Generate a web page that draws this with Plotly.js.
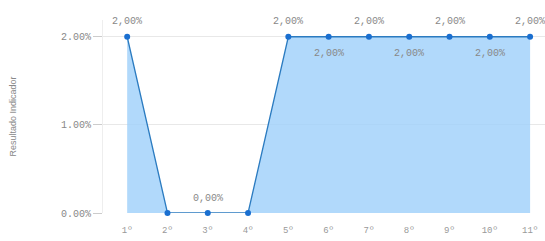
<!DOCTYPE html>
<html>
<head>
<meta charset="utf-8">
<script src="https://cdn.plot.ly/plotly-3.0.1.min.js"></script>
<style>html,body{margin:0;padding:0;background:#fff;}#chart{width:545px;height:241px;}</style>
</head>
<body>
<div id="chart"></div>
<script>
const categories = ["1º","2º","3º","4º","5º","6º","7º","8º","9º","10º","11º"];
const values = [2, 0, 0, 0, 2, 2, 2, 2, 2, 2, 2];
const labels = ["2,00%","","0,00%","","2,00%","2,00%","2,00%","2,00%","2,00%","2,00%","2,00%"];
const labelAbove = [true, true, true, true, true, false, true, false, true, false, true];
const yTickVals = [0, 1, 2];
const yTickText = ["0.00%","1.00%","2.00%"];

const xIdx = categories.map((c, i) => i);

const trace = {
  x: xIdx,
  y: values,
  type: 'scatter',
  mode: 'lines+markers',
  fill: 'tozeroy',
  fillcolor: 'rgba(158,207,250,0.8)',
  line: {color: '#2b7bc0', width: 1.3},
  marker: {color: '#1a6fd0', size: 6},
  cliponaxis: false,
  hoverinfo: 'none'
};

const annotations = labels.map((t, i) => ({
  x: xIdx[i], y: values[i], text: t, showarrow: false,
  yshift: labelAbove[i] ? 15 : -17,
  font: {family: 'Liberation Mono, monospace', size: 10, color: '#888'}
})).filter(a => a.text !== "");

const layout = {
  width: 545, height: 241,
  margin: {l: 103, r: 0, t: 20, b: 28},
  paper_bgcolor: '#fff', plot_bgcolor: '#fff',
  showlegend: false,
  font: {family: 'Liberation Mono, monospace', size: 9, color: '#888'},
  annotations: annotations,
  xaxis: {
    range: [-0.6, 10.37],
    tickvals: xIdx, ticktext: categories,
    showgrid: false, zeroline: false, showline: false,
    ticks: 'outside', ticklen: 8, tickcolor: 'rgba(0,0,0,0)',
    tickfont: {size: 9, color: '#999'}
  },
  yaxis: {
    range: [0, 2.19],
    tickvals: yTickVals, ticktext: yTickText,
    showgrid: true, gridcolor: '#e8e8e8', gridwidth: 1,
    zeroline: false, showline: true, linecolor: '#eeeeee',
    ticks: 'outside', ticklen: 9, tickcolor: '#ccc',
    tickfont: {size: 10, color: '#888'},
    title: {text: 'Resultado Indicador', font: {family: 'Liberation Sans, sans-serif', size: 9, color: '#888'}, standoff: 42}
  }
};

Plotly.newPlot('chart', [trace], layout, {displayModeBar: false, staticPlot: true});
</script>
</body>
</html>
